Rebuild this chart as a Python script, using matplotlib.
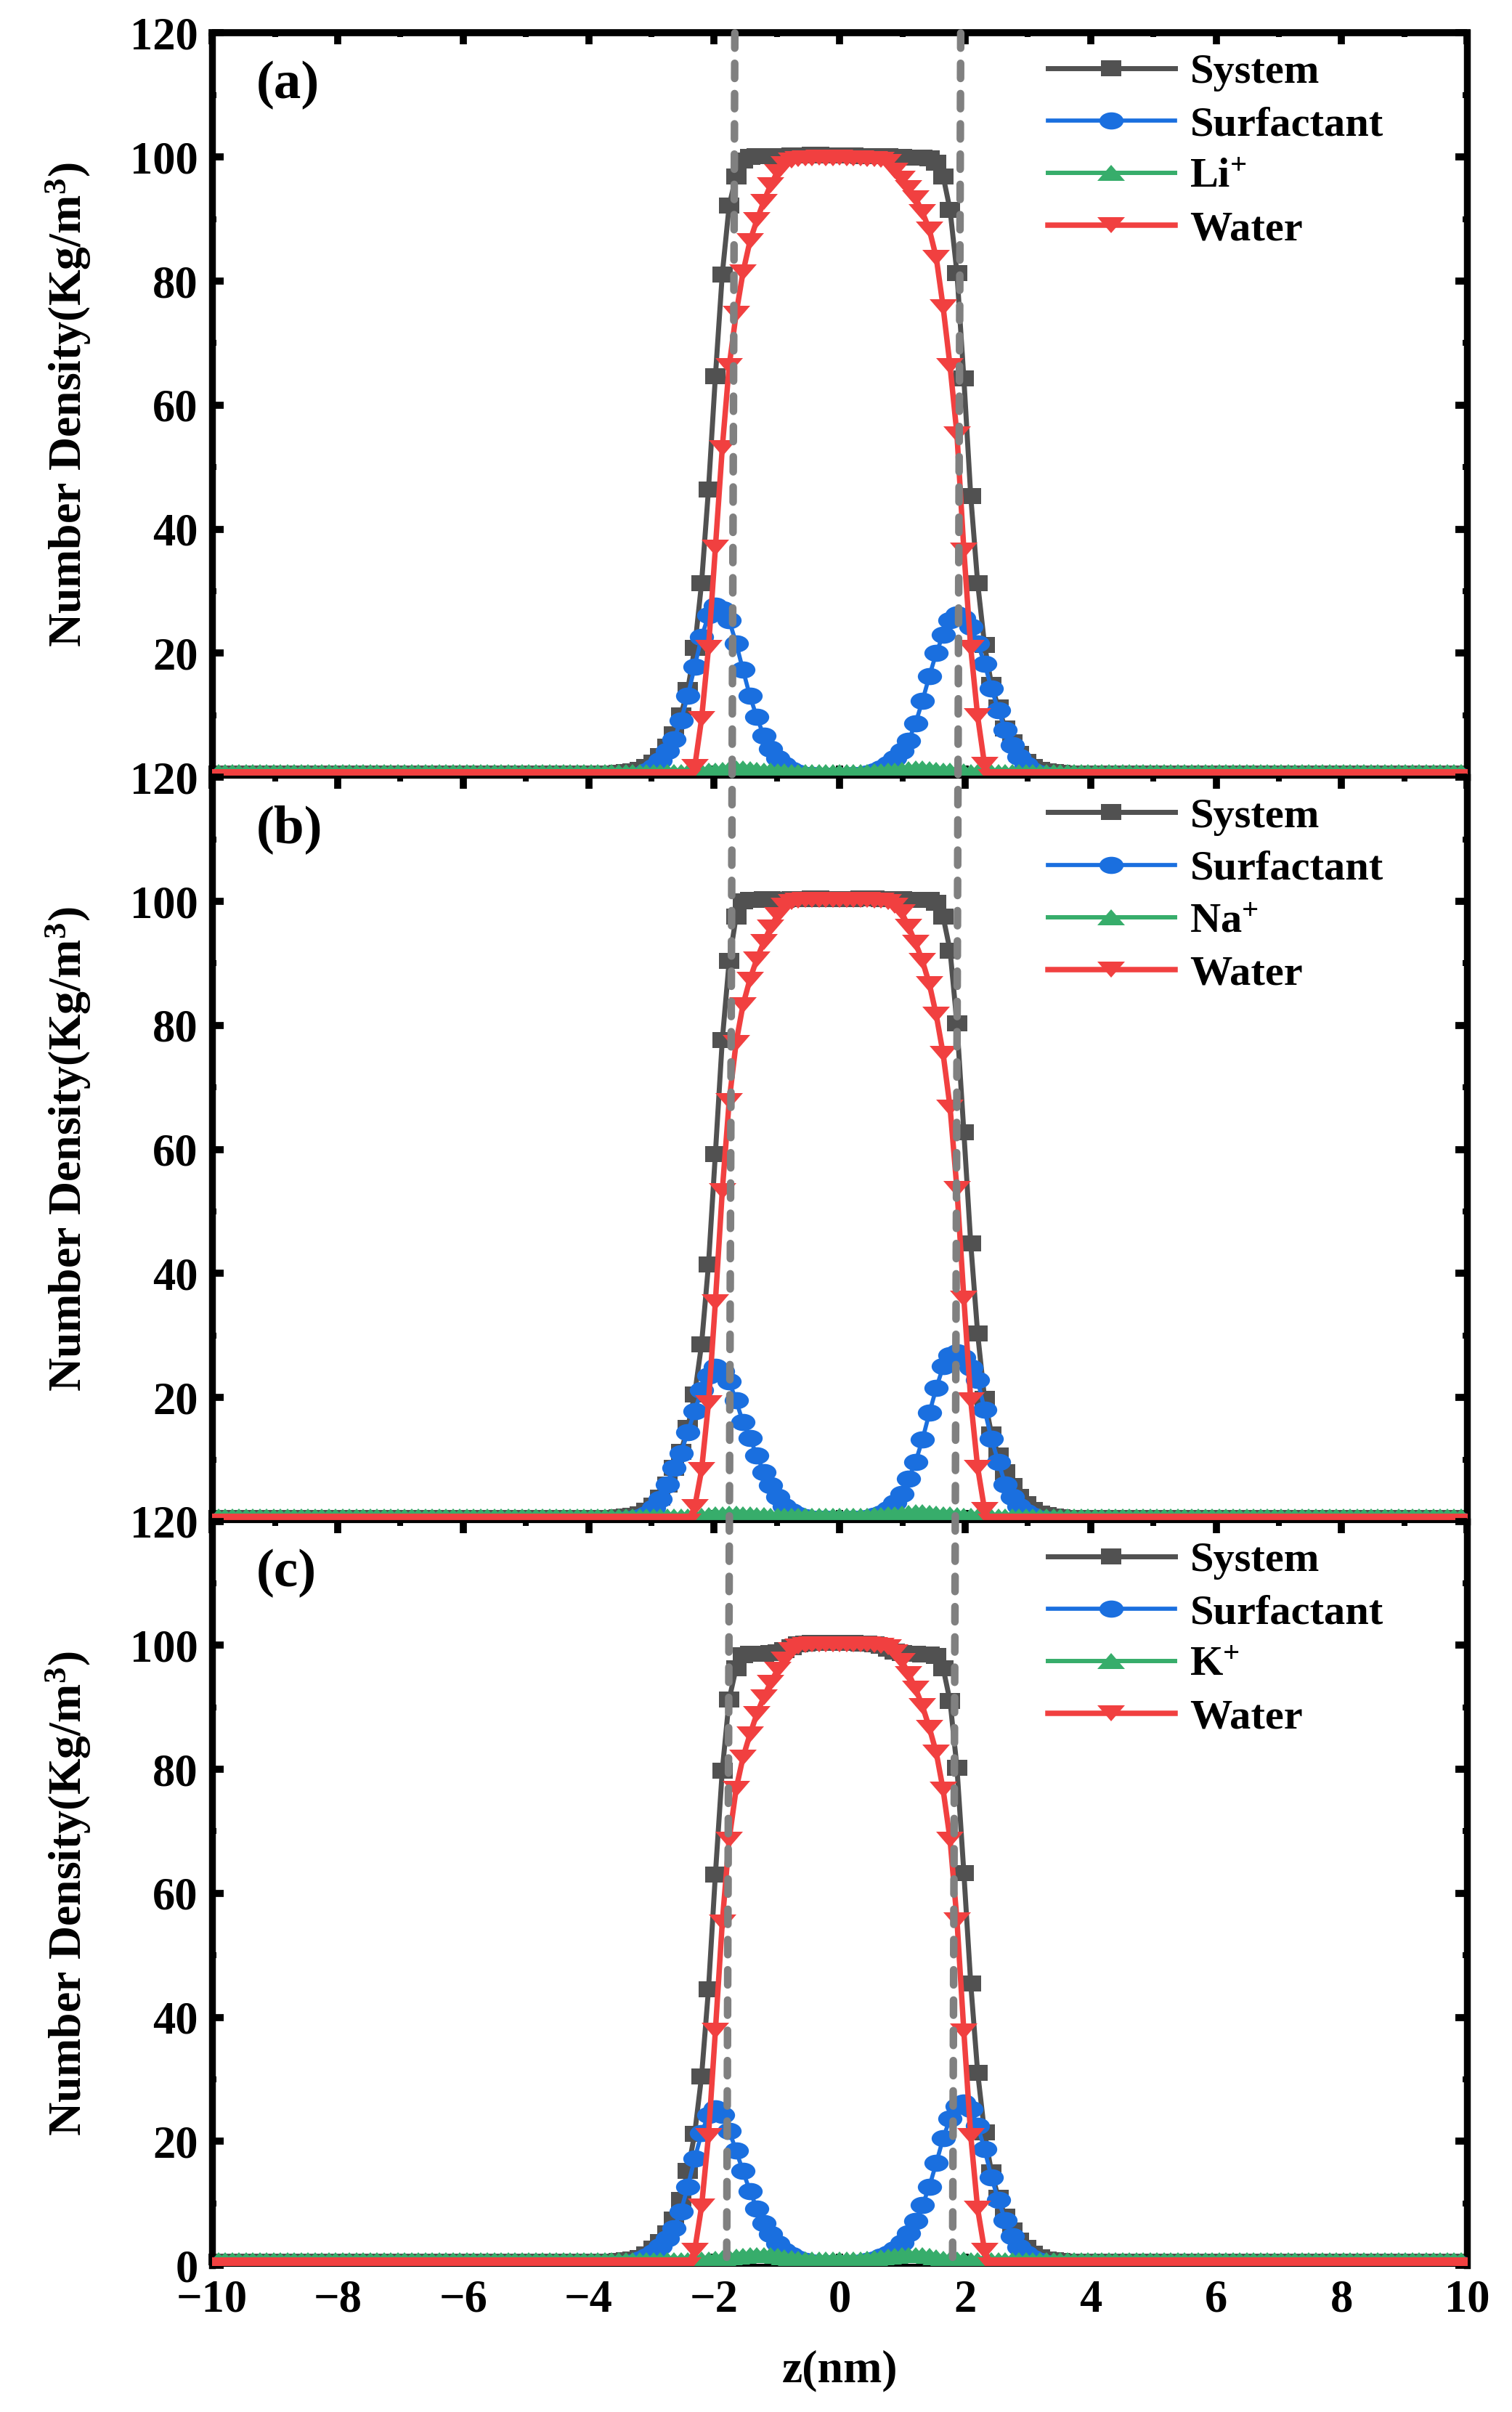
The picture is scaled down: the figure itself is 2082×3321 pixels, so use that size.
import numpy as np
import matplotlib
matplotlib.use('Agg')
import matplotlib.pyplot as plt
from matplotlib.markers import MarkerStyle
from matplotlib.transforms import Affine2D
from matplotlib.patches import ConnectionPatch
from matplotlib.ticker import MultipleLocator

plt.rcParams['font.family'] = ['Liberation Serif', 'DejaVu Serif']
plt.rcParams['font.weight'] = 'bold'
plt.rcParams['mathtext.fontset'] = 'custom'
plt.rcParams['mathtext.rm'] = 'Liberation Serif:bold'
plt.rcParams['mathtext.bf'] = 'Liberation Serif:bold'
plt.rcParams['mathtext.it'] = 'Liberation Serif:bold:italic'
plt.rcParams['mathtext.default'] = 'bf'

#------- data: bins of 0.11 nm, z from -9.9 to 9.9 -------
z = np.arange(-90, 91) * 0.11
n_out = 58  # flat bins on each side of the central 65 read values

# central values, k = -32 .. 32
sys_a = [0.7, 0.8, 0.9, 1.2, 1.6, 2.4, 3.4, 4.9, 6.9, 10.0,
         14.1, 20.8, 31.3, 46.4, 64.6, 81.1, 92.2, 96.9, 99.4, 100.0,
         100.1, 100.2, 100.2, 100.1, 100.2, 100.3, 100.3, 100.3, 100.4, 100.4,
         100.3, 100.3, 100.3, 100.3, 100.3, 100.2, 100.2, 100.2, 100.1, 100.2,
         100.0, 100.0, 99.9, 99.9, 99.9, 99.8, 99.1, 96.9, 91.5, 81.3,
         64.3, 45.3, 31.3, 21.3, 14.9, 11.2, 7.9, 5.6, 3.8, 2.5,
         1.6, 1.2, 0.9, 0.8, 0.7]
surf_a = [0.1, 0.1, 0.2, 0.4, 0.9, 1.6, 2.7, 4.2, 6.1, 9.1,
          13.1, 17.8, 22.6, 26.1, 27.6, 27.1, 25.3, 21.6, 17.3, 13.1,
          9.7, 6.7, 4.6, 3.1, 2.0, 1.2, 0.7, 0.4, 0.3, 0.2,
          0.2, 0.2, 0.2, 0.2, 0.3, 0.4, 0.6, 0.9, 1.4, 2.1,
          3.0, 4.2, 5.9, 8.7, 12.3, 16.3, 20.0, 23.0, 25.3, 26.2,
          25.7, 24.3, 21.6, 18.3, 14.3, 10.8, 7.6, 5.1, 3.3, 2.0,
          1.1, 0.6, 0.3, 0.1, 0.1]
ion_a = [0.8, 0.8, 0.8, 0.8, 0.8, 0.8, 0.8, 0.8, 0.8, 0.8,
         0.8, 0.9, 0.9, 1.0, 1.1, 1.2, 1.3, 1.4, 1.4, 1.3,
         1.2, 1.1, 1.0, 0.9, 0.9, 0.8, 0.8, 0.8, 0.8, 0.8,
         0.8, 0.8, 0.8, 0.8, 0.8, 0.8, 0.8, 0.9, 0.9, 1.0,
         1.1, 1.2, 1.3, 1.4, 1.4, 1.3, 1.2, 1.1, 1.0, 0.9,
         0.9, 0.8, 0.8, 0.8, 0.8, 0.8, 0.8, 0.8, 0.8, 0.8,
         0.8, 0.8, 0.8, 0.8, 0.8]
water_a = [0, 0, 0, 0, 0, 0, 0, 0, 0, 0, 0,
           1.6, 9.4, 20.8, 37.0, 53.1, 66.3, 74.7, 81.4, 86.4, 89.8,
           92.8, 95.5, 97.6, 98.9, 99.5, 99.7, 99.8, 99.8, 99.9, 99.8,
           99.8, 99.9, 99.8, 99.8, 99.8, 99.7, 99.7, 99.6, 99.2, 97.8,
           96.5, 95.0, 93.4, 91.1, 88.3, 83.8, 75.8, 66.3, 55.3, 36.6,
           20.8, 9.8, 2.0,
           0, 0, 0, 0, 0, 0, 0, 0, 0, 0, 0]

sys_b = [0.7, 0.8, 0.9, 1.2, 1.7, 2.6, 3.9, 6.0, 8.6, 11.2,
         15.1, 20.5, 28.6, 41.4, 59.3, 77.6, 90.4, 97.5, 100.0, 100.3,
         100.3, 100.4, 100.4, 100.3, 100.3, 100.4, 100.4, 100.4, 100.5, 100.5,
         100.4, 100.4, 100.4, 100.4, 100.4, 100.5, 100.5, 100.5, 100.4, 100.4,
         100.4, 100.4, 100.3, 100.3, 100.3, 100.2, 99.8, 97.5, 92.1, 80.3,
         62.8, 44.8, 30.3, 19.8, 14.1, 10.7, 8.0, 5.7, 4.0, 2.8,
         1.9, 1.3, 1.0, 0.8, 0.7]
surf_b = [0.2, 0.3, 0.4, 0.7, 1.2, 2.2, 3.6, 6.0, 8.7, 11.0,
          14.4, 17.8, 21.2, 23.5, 24.9, 24.2, 22.6, 19.5, 16.0, 13.4,
          10.7, 8.0, 5.9, 4.0, 2.5, 1.6, 1.0, 0.7, 0.5, 0.4,
          0.4, 0.3, 0.3, 0.3, 0.4, 0.5, 0.6, 0.9, 1.3, 2.0,
          3.0, 4.4, 6.9, 9.6, 13.2, 17.5, 21.5, 25.0, 26.8, 27.3,
          26.4, 24.8, 22.8, 18.0, 13.3, 9.6, 6.0, 4.0, 2.5, 1.5,
          0.9, 0.5, 0.3, 0.2, 0.1]
ion_b = [0.8, 0.8, 0.8, 0.8, 0.8, 0.8, 0.8, 0.8, 0.8, 0.8,
         0.8, 0.8, 0.9, 1.0, 1.1, 1.2, 1.3, 1.3, 1.2, 1.1,
         1.0, 1.0, 0.9, 0.9, 0.9, 0.9, 0.9, 0.9, 0.9, 0.9,
         0.9, 0.9, 0.9, 0.9, 0.9, 0.9, 0.9, 1.0, 1.0, 1.1,
         1.2, 1.3, 1.4, 1.5, 1.5, 1.4, 1.3, 1.2, 1.1, 1.0,
         0.9, 0.9, 0.8, 0.8, 0.8, 0.8, 0.8, 0.8, 0.8, 0.8,
         0.8, 0.8, 0.8, 0.8, 0.8]
water_b = [0, 0, 0, 0, 0, 0, 0, 0, 0, 0, 0,
           2.3, 8.3, 19.1, 35.4, 53.3, 67.8, 77.2, 83.3, 87.4, 90.7,
           93.4, 95.8, 97.8, 99.3, 99.9, 100.1, 100.2, 100.2, 100.3, 100.3,
           100.3, 100.3, 100.3, 100.2, 100.2, 100.2, 100.1, 100.1, 99.9, 99.3,
           98.2, 95.9, 93.3, 90.4, 86.7, 81.7, 75.4, 66.8, 53.6, 36.0,
           19.5, 8.7, 1.9,
           0, 0, 0, 0, 0, 0, 0, 0, 0, 0, 0]

sys_c = [0.7, 0.8, 0.9, 1.2, 1.8, 2.7, 3.8, 5.2, 7.4, 10.5,
         15.2, 21.2, 30.5, 44.5, 63.0, 79.8, 91.3, 96.3, 98.4, 98.6,
         98.6, 98.6, 98.7, 98.9, 99.2, 99.7, 100.1, 100.3, 100.4, 100.4,
         100.4, 100.4, 100.4, 100.4, 100.4, 100.3, 100.3, 100.2, 99.9, 99.4,
         99.0, 98.7, 98.6, 98.6, 98.5, 98.5, 98.3, 96.3, 91.0, 80.3,
         63.3, 45.4, 31.1, 21.4, 15.0, 10.9, 7.9, 5.6, 4.0, 2.8,
         1.9, 1.3, 1.0, 0.8, 0.7]
surf_c = [0.2, 0.3, 0.5, 0.9, 1.4, 2.1, 3.0, 4.3, 6.0, 8.7,
          12.7, 17.2, 21.3, 24.3, 25.3, 24.2, 21.7, 18.5, 15.2, 12.0,
          9.2, 6.8, 5.0, 3.5, 2.4, 1.6, 1.1, 0.7, 0.5, 0.4,
          0.4, 0.4, 0.4, 0.4, 0.4, 0.5, 0.7, 1.0, 1.4, 1.9,
          2.6, 3.6, 5.2, 7.2, 9.7, 12.7, 16.5, 20.5, 23.7, 25.7,
          26.2, 25.2, 22.5, 18.7, 14.2, 10.5, 7.3, 4.7, 2.9, 1.9,
          1.2, 0.7, 0.4, 0.3, 0.2]
ion_c = [0.8, 0.8, 0.8, 0.8, 0.8, 0.8, 0.8, 0.8, 0.8, 0.8,
         0.8, 0.9, 0.9, 1.0, 1.1, 1.2, 1.3, 1.4, 1.5, 1.6,
         1.7, 1.7, 1.6, 1.5, 1.3, 1.2, 1.1, 1.0, 1.0, 1.0,
         1.0, 1.0, 1.0, 1.0, 1.0, 1.0, 1.1, 1.2, 1.3, 1.4,
         1.5, 1.6, 1.7, 1.7, 1.6, 1.5, 1.3, 1.1, 1.0, 0.9,
         0.9, 0.8, 0.8, 0.8, 0.8, 0.8, 0.8, 0.8, 0.8, 0.8,
         0.8, 0.8, 0.8, 0.8, 0.8]
water_c = [0, 0, 0, 0, 0, 0, 0, 0, 0, 0, 0,
           2.4, 9.5, 20.9, 37.8, 55.3, 68.7, 76.8, 81.9, 85.6, 88.9,
           91.6, 94.0, 96.0, 97.7, 99.2, 99.8, 100.0, 100.1, 100.1, 100.1,
           100.1, 100.1, 100.1, 100.1, 100.1, 100.1, 100.0, 99.9, 99.7, 98.9,
           97.5, 95.4, 93.0, 90.2, 86.7, 82.7, 76.7, 68.7, 55.7, 37.7,
           20.9, 9.1, 2.4,
           0, 0, 0, 0, 0, 0, 0, 0, 0, 0, 0]

# flat levels outside the interfaces
base_sys, base_surf, base_ion, base_water = 0.6, 0.1, 0.8, 0.0

panel_tags = ['(a)', '(b)', '(c)']
ion_names = ['Li$^{+}$', 'Na$^{+}$', 'K$^{+}$']
series_names = ['System', 'Surfactant', 'Water']
y_label = 'Number Density(Kg/m$^{3}$)'
x_label = 'z(nm)'
y_ticks = [0, 20, 40, 60, 80, 100, 120]

# dashed interface guides: z at top of (a) and bottom of (c)
iface_top = [-1.67, 1.93]
iface_bottom = [-1.80, 1.80]


def pad(core, base):
    return [base] * n_out + core + [base] * n_out


#------- figure -------
fig = plt.figure(figsize=(20.82, 33.21), dpi=100)
bottoms = [0.6778, 0.3692, 0.0608]
axs = [fig.add_axes([0.1403, b, 0.830, 0.3085]) for b in bottoms]

sq = MarkerStyle('s', transform=Affine2D().scale(1, 0.77))
ci = MarkerStyle('o', transform=Affine2D().scale(1, 0.71))
dn = MarkerStyle('v', transform=Affine2D().scale(1, 0.61))
up = MarkerStyle('^', transform=Affine2D().scale(1, 0.61))

all_sys = [sys_a, sys_b, sys_c]
all_surf = [surf_a, surf_b, surf_c]
all_ion = [ion_a, ion_b, ion_c]
all_water = [water_a, water_b, water_c]

for i, ax in enumerate(axs):
    ax.plot(z, pad(all_sys[i], base_sys), color='#515151', lw=5, marker=sq,
            ms=20, mew=0, label=series_names[0], zorder=2)
    ax.plot(z, pad(all_surf[i], base_surf), color='#1A6FDF', lw=4.1, marker=ci,
            ms=24, mew=0, label=series_names[1], zorder=3)
    ax.plot(z, pad(all_ion[i], base_ion), color='#37AD6B', lw=4.3, marker=up,
            ms=27, mew=0, label=ion_names[i], zorder=4)
    ax.plot(z, pad(all_water[i], base_water), color='#F14040', lw=5.4, marker=dn,
            ms=27, mew=0, label=series_names[2], zorder=5)

    ax.set_xlim(-10, 10)
    ax.set_ylim(0, 120)
    # the "0" of (a) and (b) sits under the "120" of the panel below
    labels = [str(t) for t in y_ticks]
    if i < 2:
        labels[0] = ''
    ax.set_yticks(y_ticks, labels=labels)
    ax.xaxis.set_major_locator(MultipleLocator(2))
    ax.xaxis.set_minor_locator(MultipleLocator(1))
    ax.yaxis.set_minor_locator(MultipleLocator(10))
    ax.tick_params(which='major', direction='in', length=11.5, width=7,
                   top=True, right=True, labelsize=45, pad=14)
    ax.tick_params(which='minor', direction='in', length=4.3, width=5.8,
                   top=True, right=True)
    if i < 2:
        ax.tick_params(labelbottom=False)

    for s in ['left', 'right']:
        ax.spines[s].set_linewidth(6.8)
    ax.spines['top'].set_linewidth(3)
    ax.spines['bottom'].set_linewidth(3)

    ax.set_ylabel(y_label, fontsize=46, fontweight='bold')
    ax.yaxis.set_label_coords(-0.095, 0.5)

    ax.text(0.035, 0.93, panel_tags[i], transform=ax.transAxes, fontsize=54,
            fontweight='bold', ha='left', va='center')

    ax.legend(loc='upper left', bbox_to_anchor=(0.666, 0.973), frameon=False,
              fontsize=42, handlelength=3.0, handletextpad=0.35,
              labelspacing=0.33, borderpad=0, borderaxespad=0, numpoints=1)

axs[0].spines['top'].set_linewidth(7)
axs[2].set_xlabel(x_label, fontsize=46, fontweight='bold', labelpad=28)

#------- dashed interface lines across all panels -------
for zt, zb in zip(iface_top, iface_bottom):
    cp = ConnectionPatch(xyA=(zt, 120), coordsA='data', axesA=axs[0],
                         xyB=(zb, 0), coordsB='data', axesB=axs[2],
                         color='#808080', lw=7.5, linestyle=(0, (2.0, 2.0)),
                         zorder=10)
    fig.add_artist(cp)

fig.savefig('out.png', dpi=100)
